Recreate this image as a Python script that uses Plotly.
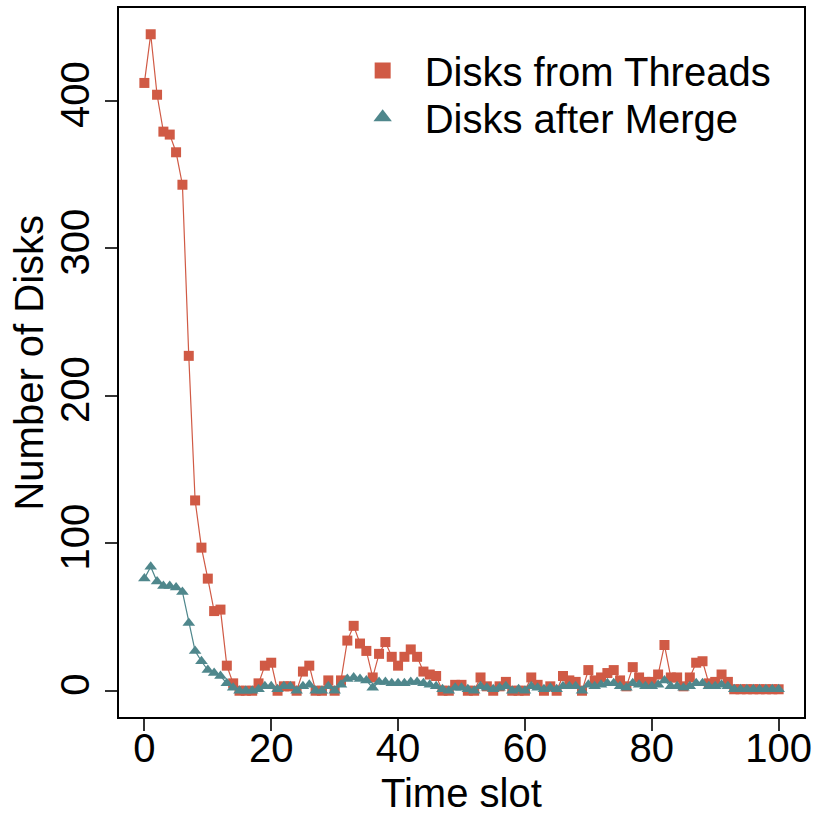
import plotly.graph_objects as go

time_slot = list(range(101))

disks_from_threads = [
    412, 445, 404, 379, 377, 365, 343, 227, 129, 97,
    76, 54, 55, 17, 5, 0, 0, 0, 5, 17,
    19, 0, 3, 3, 0, 13, 17, 0, 0, 7,
    0, 7, 34, 44, 32, 27, 9, 25, 33, 23,
    17, 23, 28, 23, 13, 11, 10, 0, 0, 4,
    4, 0, 0, 9, 3, 0, 3, 6, 0, 0,
    0, 9, 4, 0, 3, 0, 10, 7, 6, 0,
    14, 7, 9, 12, 14, 7, 3, 16, 9, 6,
    6, 11, 31, 9, 9, 3, 9, 19, 20, 5,
    6, 11, 6, 1, 1, 1, 1, 1, 1, 1,
    1,
]

disks_after_merge = [
    76, 84, 74, 71, 71, 70, 67, 46, 27, 20,
    14, 12, 10, 5, 2, 0, 0, 0, 1, 3,
    3, 1, 3, 3, 0, 3, 4, 0, 0, 3,
    0, 4, 8, 9, 8, 7, 2, 6, 6, 5,
    5, 5, 6, 6, 5, 4, 3, 1, 0, 2,
    2, 1, 0, 3, 2, 1, 2, 3, 0, 1,
    0, 3, 2, 1, 2, 1, 3, 3, 3, 0,
    4, 3, 4, 5, 5, 3, 2, 5, 4, 3,
    3, 4, 7, 3, 3, 2, 3, 5, 5, 3,
    3, 4, 3, 1, 1, 1, 1, 1, 1, 1,
    1,
]

x_ticks = [0, 20, 40, 60, 80, 100]
y_ticks = [0, 100, 200, 300, 400]

RED = "#D05A45"
TEAL = "#4F878C"
FONT = "Liberation Sans, Arial, Helvetica, sans-serif"

fig = go.Figure()
fig.add_trace(go.Scatter(
    x=time_slot, y=disks_from_threads, mode="lines+markers",
    name="Disks from Threads", showlegend=False,
    line=dict(color=RED, width=1.2),
    marker=dict(symbol="square", size=10, color=RED),
))
fig.add_trace(go.Scatter(
    x=time_slot, y=disks_after_merge, mode="lines+markers",
    name="Disks after Merge", showlegend=False,
    line=dict(color=TEAL, width=1.2),
    marker=dict(symbol="triangle-up", size=11, color=TEAL),
))
# legend entries (marker only, as in the reference legend)
fig.add_trace(go.Scatter(
    x=[None], y=[None], mode="markers", name="Disks from Threads",
    marker=dict(symbol="square", size=17, color=RED), legend="legend",
))
fig.add_trace(go.Scatter(
    x=[None], y=[None], mode="markers", name="Disks after Merge",
    marker=dict(symbol="triangle-up", size=20, color=TEAL), legend="legend2",
))

leg_common = dict(
    xanchor="left", yanchor="middle",
    bgcolor="rgba(0,0,0,0)", font=dict(size=40, family=FONT, color="black"),
    itemwidth=74,
)

fig.update_layout(
    width=813, height=814,
    margin=dict(l=119, r=9, t=8, b=97),
    paper_bgcolor="white", plot_bgcolor="white",
    font=dict(family=FONT, size=40, color="black"),
    showlegend=True,
    legend=dict(x=0.3236, y=0.912, **leg_common),
    legend2=dict(x=0.3236, y=0.846, **leg_common),
    xaxis=dict(
        range=[-4, 104], tickvals=x_ticks, ticktext=[str(v) for v in x_ticks],
        showgrid=False, zeroline=False, automargin=False,
        showline=True, mirror=True, linecolor="black", linewidth=1.5,
        ticks="outside", ticklen=12, tickwidth=1.5, tickcolor="#333333",
        tickfont=dict(size=40, family=FONT), ticklabelstandoff=-17,
    ),
    yaxis=dict(
        range=[-17.8, 462.8], tickvals=y_ticks, ticktext=[str(v) for v in y_ticks],
        showgrid=False, zeroline=False, automargin=False,
        showline=True, mirror=True, linecolor="black", linewidth=1.5,
        ticks="outside", ticklen=12, tickwidth=1.5, tickcolor="#333333",
        tickangle=-90,
        tickfont=dict(size=40, family=FONT),
    ),
    annotations=[
        dict(text="Time slot", xref="paper", yref="paper", x=0.5, y=-0.107,
             xanchor="center", yanchor="middle", showarrow=False,
             font=dict(size=40, family=FONT, color="black")),
        dict(text="Number of Disks", xref="paper", yref="paper", x=-0.1328, y=0.5,
             xanchor="center", yanchor="middle", textangle=-90, showarrow=False,
             font=dict(size=40, family=FONT, color="black")),
    ],
)

fig.write_html("out.html")
